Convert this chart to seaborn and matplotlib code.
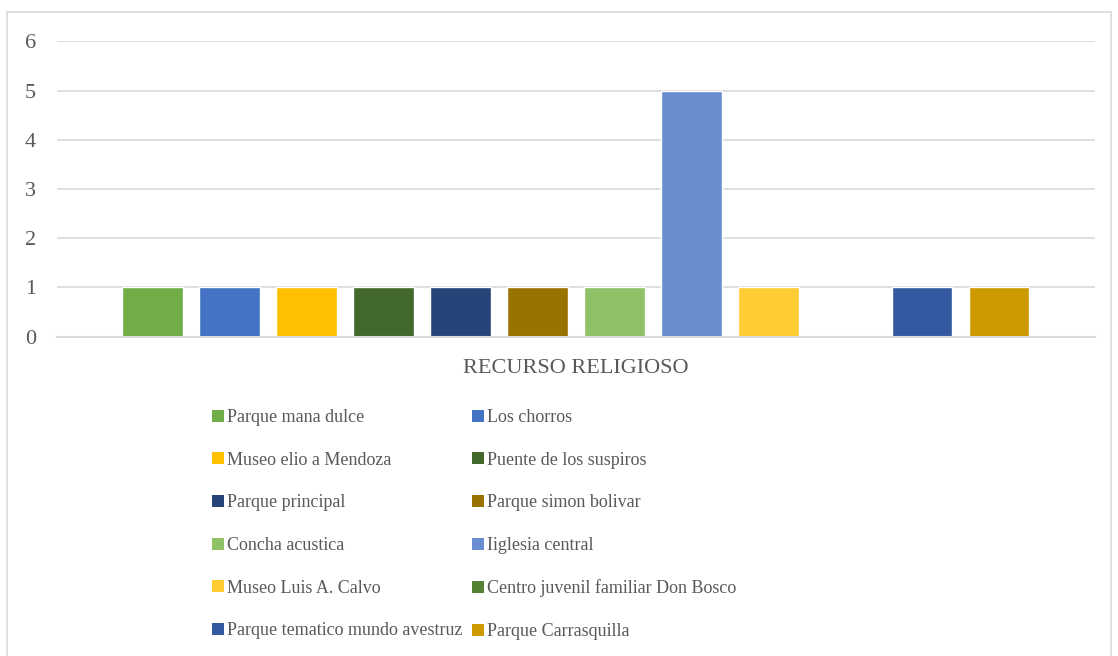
import pandas as pd
import seaborn as sns
import matplotlib.pyplot as plt
from matplotlib.patches import Patch, Rectangle

# Data
categoria = "RECURSO RELIGIOSO"
recursos = [
    "Parque mana dulce",
    "Los chorros",
    "Museo elio a Mendoza",
    "Puente de los suspiros",
    "Parque principal",
    "Parque simon bolivar",
    "Concha acustica",
    "Iiglesia central",
    "Museo Luis A. Calvo",
    "Centro juvenil familiar Don Bosco",
    "Parque tematico mundo avestruz",
    "Parque Carrasquilla",
]
valores = [1, 1, 1, 1, 1, 1, 1, 5, 1, 0, 1, 1]
colores = [
    "#70AD47", "#4472C4", "#FFC000", "#43682B", "#264478", "#997300",
    "#8FC166", "#698ED0", "#FFCD33", "#548235", "#335AA1", "#CC9A00",
]

df = pd.DataFrame({"categoria": [categoria] * len(recursos),
                   "recurso": recursos,
                   "valor": valores})

sns.set_style("white")
plt.rcParams["font.family"] = ["Liberation Serif", "DejaVu Serif"]
text_color = "#595959"

fig = plt.figure(figsize=(11.18, 6.56), dpi=100)
ax = fig.add_axes([0.051, 0.487, 0.928, 0.45])

sns.barplot(data=df, x="categoria", y="valor", hue="recurso",
            hue_order=recursos, palette=colores, width=0.89, gap=0.21,
            saturation=1, legend=False, ax=ax)

ax.set_ylim(0, 6)
ax.set_yticks(range(0, 7))
ax.grid(axis="y", color="#D9D9D9", linewidth=1.2)
ax.set_axisbelow(True)
for s in ["top", "right", "left"]:
    ax.spines[s].set_visible(False)
ax.spines["bottom"].set_color("#D9D9D9")
ax.spines["bottom"].set_linewidth(1.5)
ax.set_xlabel("")
ax.set_ylabel("")
ax.tick_params(axis="x", length=0, labelsize=16, colors=text_color, pad=16)
ax.tick_params(axis="y", length=0, labelsize=16, colors=text_color, pad=15)

# figure border
fig.patches.append(Rectangle((7 / 1118, -0.01), 1104 / 1118, 1 - 12 / 656 + 0.01,
                             transform=fig.transFigure, fill=False,
                             edgecolor="#D9D9D9", linewidth=1.2))

# legend laid out row by row in two columns, like the original
handles = [Patch(facecolor=c, edgecolor="none") for c in colores]
leg_kw = dict(loc="upper left", frameon=False, fontsize=13,
              labelcolor=text_color, handlelength=0.65, handleheight=0.65,
              handletextpad=0.2, labelspacing=1.42, borderpad=0,
              borderaxespad=0)
col_x = [212 / 1118, 472 / 1118]
for i in range(2):
    leg = fig.legend(handles[i::2], recursos[i::2],
                     bbox_to_anchor=(col_x[i], 1 - 409 / 656), **leg_kw)

fig.savefig("out.png", dpi=100)
